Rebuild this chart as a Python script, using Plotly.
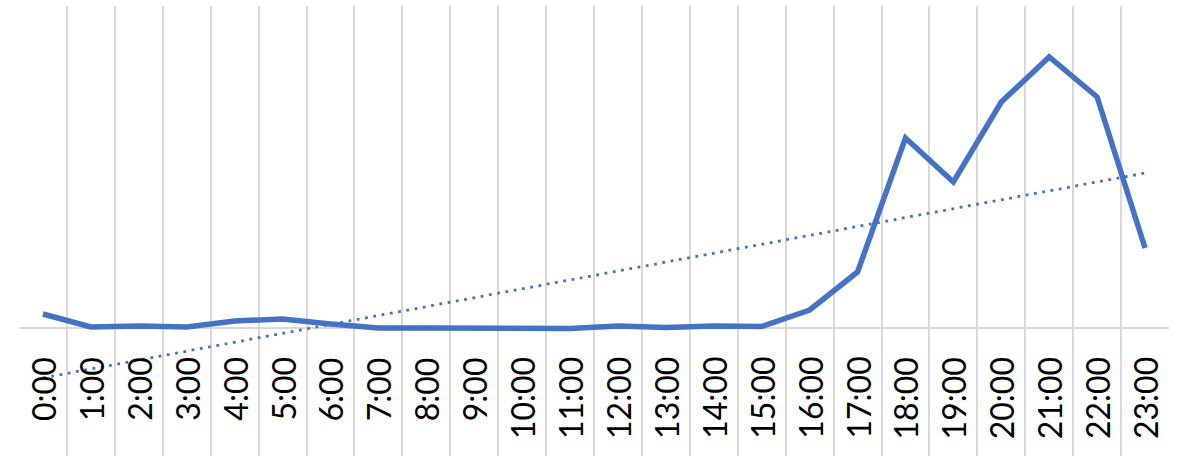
import numpy as np
import plotly.graph_objects as go

categories = [f"{h}:00" for h in range(24)]
values = [14, 1, 2, 1, 7, 9, 4, 0, 0, -0.5, 0, -0.5, 2, 0.5, 2, 1.5,
          18, 56, 190, 146, 226, 271, 231, 80]

x = np.arange(len(categories))
slope, intercept = np.polyfit(x, values, 1)
trend = slope * x + intercept

fig = go.Figure()
fig.add_trace(go.Scatter(x=x, y=values, mode="lines",
                         line=dict(color="#4472C4", width=5.5), hoverinfo="skip"))
fig.add_trace(go.Scatter(x=x, y=trend, mode="lines",
                         line=dict(color="#4472C4", width=2.8, dash="2.8px,5.6px"),
                         hoverinfo="skip"))

for i, c in enumerate(categories):
    fig.add_annotation(x=i, y=-27, text=c, textangle=-90, showarrow=False,
                       xanchor="center", yanchor="top",
                       font=dict(family="Lato", size=32, color="#000000"))

fig.update_layout(
    width=1184, height=456,
    margin=dict(l=19, r=15, t=6, b=0),
    paper_bgcolor="white", plot_bgcolor="white",
    showlegend=False,
)
fig.update_xaxes(range=[-0.5, 23.5], tickvals=[i - 0.5 for i in range(25)],
                 showticklabels=False, showgrid=True, gridcolor="#d9d9d9",
                 gridwidth=2, zeroline=False, showline=False, ticks="")
fig.update_yaxes(range=[-128, 322], showgrid=False, showticklabels=False,
                 zeroline=True, zerolinecolor="#d9d9d9", zerolinewidth=2,
                 showline=False, ticks="")

fig.write_html("out.html", config={"displayModeBar": False, "staticPlot": True},
               post_script="document.body.style.margin='0';document.body.style.padding='0';")
